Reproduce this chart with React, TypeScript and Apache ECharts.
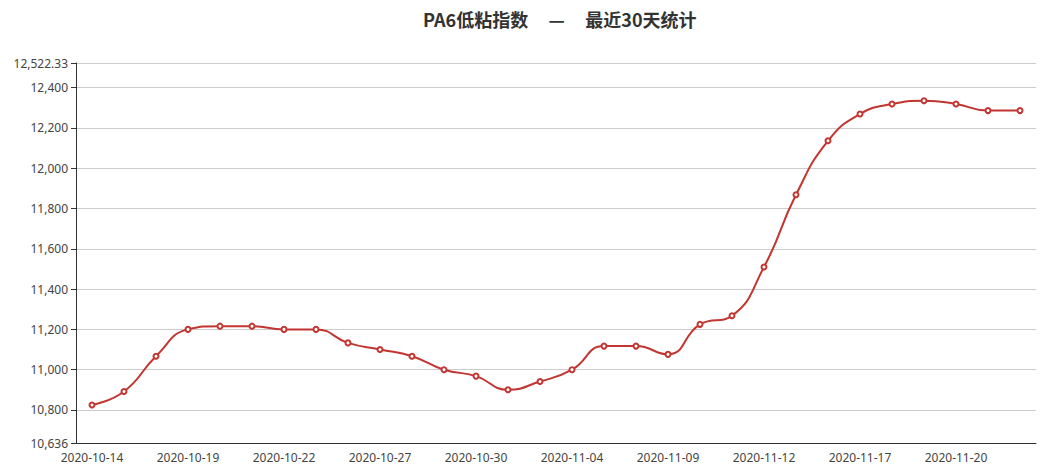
import React, { useEffect, useRef } from "react";
import * as echarts from "echarts";

const titleText = "PA6低粘指数     —     最近30天统计";
const dates = [
  "2020-10-14", "2020-10-15", "2020-10-16", "2020-10-19", "2020-10-20", "2020-10-21",
  "2020-10-22", "2020-10-23", "2020-10-26", "2020-10-27", "2020-10-28", "2020-10-29",
  "2020-10-30", "2020-11-02", "2020-11-03", "2020-11-04", "2020-11-05", "2020-11-06",
  "2020-11-09", "2020-11-10", "2020-11-11", "2020-11-12", "2020-11-13", "2020-11-16",
  "2020-11-17", "2020-11-18", "2020-11-19", "2020-11-20", "2020-11-23", "2020-11-24",
];
const values = [
  10825, 10892, 11067, 11200, 11216, 11216,
  11200, 11200, 11133, 11100, 11067, 11000,
  10968, 10900, 10941, 11000, 11117, 11117,
  11076, 11225, 11268, 11510, 11868, 12136,
  12269, 12319, 12335, 12319, 12286, 12286,
];
const yMin = 10636;
const yMax = 12522.33;

export default function App() {
  const ref = useRef<HTMLDivElement>(null);
  useEffect(() => {
    if (!ref.current) return;
    const chart = echarts.init(ref.current, null, { renderer: "svg" });
    chart.setOption({
      animation: false,
      title: {
        text: titleText,
        left: 418,
        top: 5,
        textStyle: {
          fontSize: 18,
          fontWeight: "bold",
          color: "#333",
          fontFamily: "'Noto Sans CJK SC', sans-serif",
        },
      },
      grid: { left: 76, right: 7, top: 63, bottom: 30 },
      xAxis: {
        type: "category",
        data: dates,
        boundaryGap: true,
        axisLine: { lineStyle: { color: "#333" } },
        axisLabel: { color: "#444", fontSize: 12, fontFamily: "'Noto Sans', sans-serif" },
      },
      yAxis: {
        type: "value",
        min: yMin,
        max: yMax,
        splitNumber: 9,
        axisLine: { show: true, lineStyle: { color: "#333" } },
        axisTick: { show: true },
        axisLabel: {
          color: "#444",
          fontSize: 12,
          fontFamily: "'Noto Sans', sans-serif",
          formatter: (v: number) =>
            v.toLocaleString("en-US", { maximumFractionDigits: 2 }),
        },
        splitLine: { lineStyle: { color: "#ccc" } },
      },
      series: [
        {
          type: "line",
          data: values,
          smooth: true,
          symbol: "emptyCircle",
          symbolSize: 5,
          lineStyle: { color: "#c23531", width: 2 },
          itemStyle: { color: "#c23531", borderWidth: 1 },
        },
      ],
    });
    return () => chart.dispose();
  }, []);
  return (
    <div
      ref={ref}
      style={{ position: "absolute", left: 0, top: 0, width: 1043, height: 473 }}
    />
  );
}
